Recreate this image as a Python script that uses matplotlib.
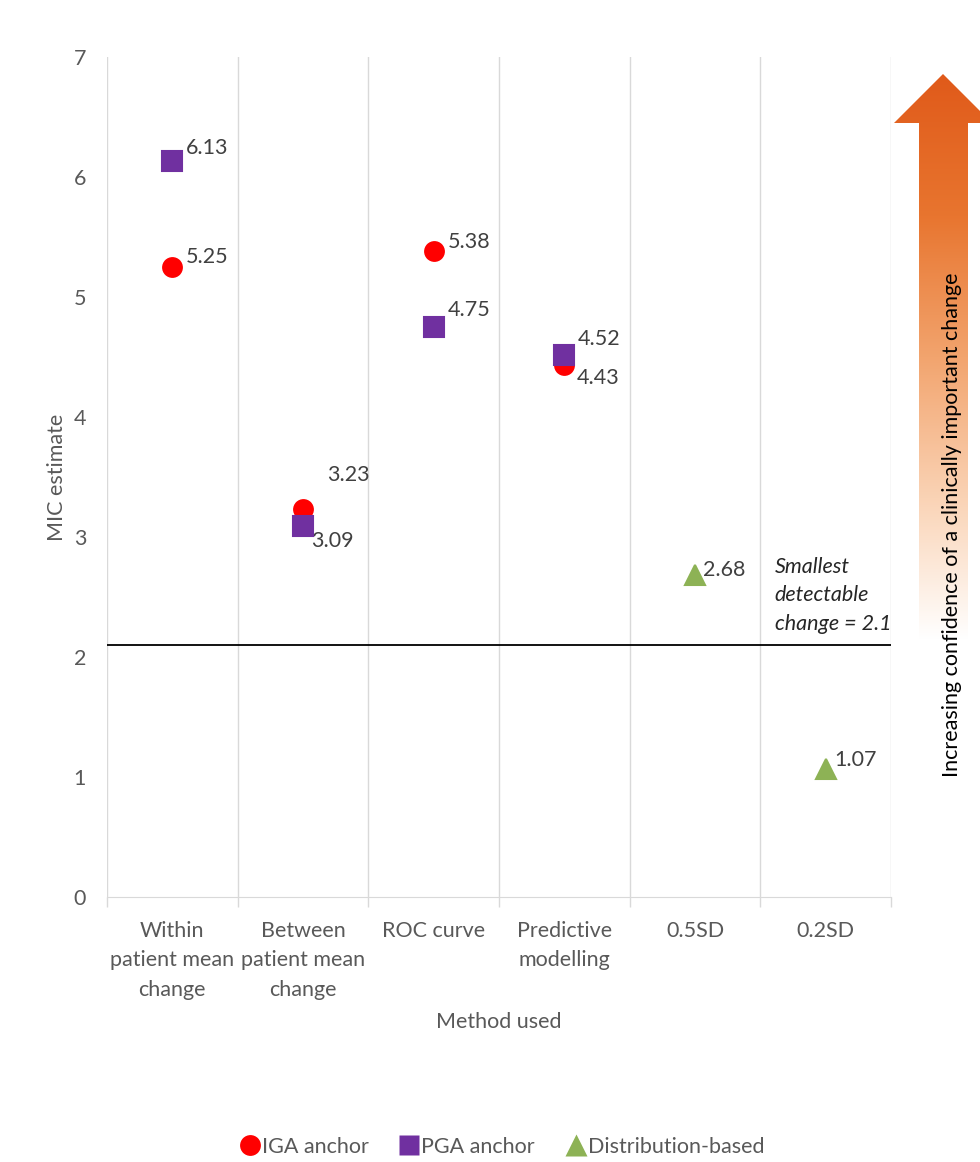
import matplotlib.pyplot as plt
import numpy as np
from matplotlib.lines import Line2D
from matplotlib.patches import Polygon
from matplotlib.colors import LinearSegmentedColormap

plt.rcParams['font.family'] = ['Lato', 'DejaVu Sans']

# categories on the x axis
methods = ['Within\npatient mean\nchange', 'Between\npatient mean\nchange', 'ROC curve',
           'Predictive\nmodelling', '0.5SD', '0.2SD']

# MIC estimates per anchor / method
iga_pos = [1, 2, 3, 4]
iga_vals = [5.25, 3.23, 5.38, 4.43]
pga_pos = [1, 2, 3, 4]
pga_vals = [6.13, 3.09, 4.75, 4.52]
dist_pos = [5, 6]
dist_vals = [2.68, 1.07]

sdc = 2.1

# label offsets in points (dx, dy)
iga_off = [(10, 7), (17, 25), (10, 7), (9, -9)]
pga_off = [(10, 10), (6, -11), (10, 12), (10, 11)]
dist_off = [(6, 4), (6, 6)]

fs = 15.5
grey = '#595959'
lab_col = '#404040'
grid_col = '#D9D9D9'

fig = plt.figure(figsize=(9.8, 11.62), dpi=100)
ax = fig.add_axes([107 / 980, 265 / 1162, 784 / 980, 840 / 1162])

ax.set_xlim(0.5, 6.5)
ax.set_ylim(0, 7)

ax.axhline(sdc, color='black', lw=1.3, zorder=2)

ax.plot(iga_pos, iga_vals, 'o', ms=15, color='#FF0000', mec='none', zorder=3)
ax.plot(pga_pos, pga_vals, 's', ms=14, color='#7030A0', mec='#7030A0', mew=1.5,
        zorder=4)
ax.plot(dist_pos, dist_vals, '^', ms=15, color='#8DB255', mec='#8DB255', mew=1.5,
        zorder=5)

for x, v, o in zip(iga_pos, iga_vals, iga_off):
    ax.annotate(f'{v:.2f}', (x, v), xytext=o, textcoords='offset points',
                ha='left', va='center', fontsize=fs, color=lab_col)
for x, v, o in zip(pga_pos, pga_vals, pga_off):
    ax.annotate(f'{v:.2f}', (x, v), xytext=o, textcoords='offset points',
                ha='left', va='center', fontsize=fs, color=lab_col)
for x, v, o in zip(dist_pos, dist_vals, dist_off):
    ax.annotate(f'{v:.2f}', (x, v), xytext=o, textcoords='offset points',
                ha='left', va='center', fontsize=fs, color=lab_col)

ax.text(5.61, sdc + 0.09, 'Smallest\ndetectable\nchange = 2.1', style='italic',
        fontsize=fs, color='#262626', ha='left', va='bottom', linespacing=1.55)

ax.set_xticks(range(1, 7))
ax.set_xticklabels(methods, fontsize=fs, color=grey, linespacing=1.6)
ax.set_xticks(np.arange(0.5, 7, 1), minor=True)
ax.tick_params(axis='x', which='major', length=0, pad=17)
ax.tick_params(axis='x', which='minor', length=7, color=grid_col, width=1)
ax.set_yticks(range(0, 8))
ax.tick_params(axis='y', length=0, labelsize=fs, labelcolor=grey, pad=15)
ax.grid(axis='x', which='minor', color=grid_col, lw=1)

for s in ['top', 'right', 'left']:
    ax.spines[s].set_visible(False)
ax.spines['bottom'].set_color(grid_col)

ax.set_xlabel('Method used', fontsize=fs, color=grey, labelpad=9)
ax.set_ylabel('MIC estimate', fontsize=fs, color=grey, labelpad=5)

# gradient arrow on the right, in pixel coordinates
ov = fig.add_axes([0, 0, 1, 1], zorder=-1)
ov.set_xlim(0, 980)
ov.set_ylim(1162, 0)
ov.axis('off')
arrow_pts = [(919, 640), (919, 123), (894, 123), (943, 74), (992, 123),
             (968, 123), (968, 640)]
arrow = Polygon(arrow_pts, closed=True, fc='none', ec='none')
ov.add_patch(arrow)
cmap = LinearSegmentedColormap.from_list(
    'fade', ['#E05A1A', '#E8752F', '#F2A46E', '#FAD3B5', '#FFFFFF'])
grad = np.linspace(0, 1, 256).reshape(-1, 1)
img = ov.imshow(grad, cmap=cmap, extent=(890, 995, 640, 74), aspect='auto')
img.set_clip_path(arrow)
ov.set_xlim(0, 980)
ov.set_ylim(1162, 0)
ov.text(952, 777, 'Increasing confidence of a clinically important change',
        rotation=90, ha='center', va='bottom', fontsize=fs, color='black')

handles = [
    Line2D([], [], marker='o', ls='none', ms=15, color='#FF0000', mec='none'),
    Line2D([], [], marker='s', ls='none', ms=14, color='#7030A0', mec='none'),
    Line2D([], [], marker='^', ls='none', ms=16, color='#8DB255', mec='none'),
]
fig.legend(handles, ['IGA anchor', 'PGA anchor', 'Distribution-based'],
           loc='center', bbox_to_anchor=(501 / 980, 1 - 1147 / 1162), ncol=3,
           frameon=False, fontsize=fs, labelcolor=grey, handletextpad=0.0,
           columnspacing=1.35, handlelength=1.1)

fig.savefig('out.png', dpi=100)
